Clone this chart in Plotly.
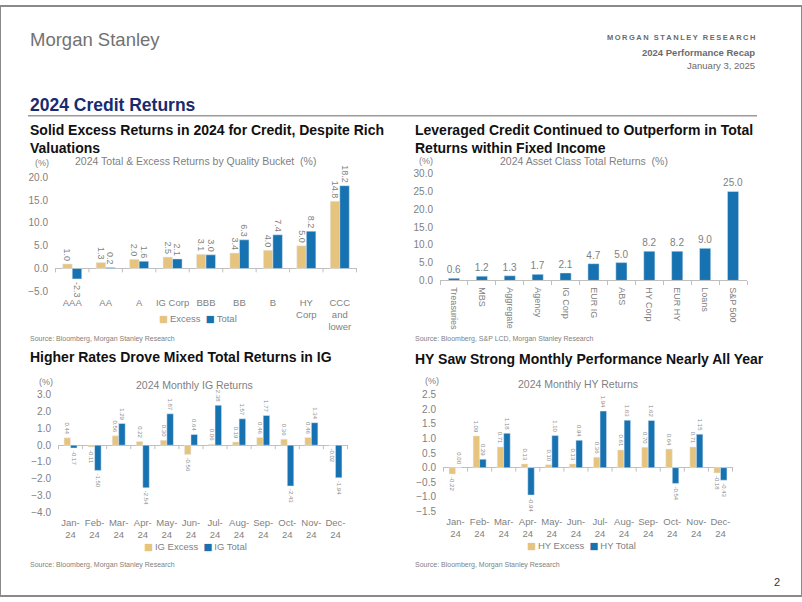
import plotly.graph_objects as go

# ---------------- data ----------------
quality_buckets = ["AAA", "AA", "A", "IG Corp", "BBB", "BB", "B", "HY Corp", "CCC and lower"]
quality_ticktext = ["AAA", "AA", "A", "IG Corp", "BBB", "BB", "B", "HY<br>Corp", "CCC<br>and<br>lower"]
quality_excess = [1.0, 1.3, 2.0, 2.5, 3.1, 3.4, 4.0, 5.0, 14.8]
quality_total = [-2.3, 0.2, 1.6, 2.1, 3.0, 6.3, 7.4, 8.2, 18.2]

asset_classes = ["Treasuries", "MBS", "Aggregate", "Agency", "IG Corp", "EUR IG", "ABS",
                 "HY Corp", "EUR HY", "Loans", "S&P 500"]
asset_total = [0.6, 1.2, 1.3, 1.7, 2.1, 4.7, 5.0, 8.2, 8.2, 9.0, 25.0]

months = ["Jan-24", "Feb-24", "Mar-24", "Apr-24", "May-24", "Jun-24",
          "Jul-24", "Aug-24", "Sep-24", "Oct-24", "Nov-24", "Dec-24"]
month_ticktext = [m.replace("-", "-<br>") for m in months]
ig_excess = [0.44, -0.11, 0.56, 0.22, 0.30, -0.56, 0.06, 0.19, 0.46, 0.36, 0.46, -0.02]
ig_total = [-0.17, -1.50, 1.29, -2.54, 1.87, 0.64, 2.38, 1.57, 1.77, -2.43, 1.34, -1.94]
hy_excess = [-0.22, 1.09, 0.71, 0.13, 0.10, 0.13, 0.36, 0.61, 0.70, 0.64, 0.71, -0.18]
hy_total = [0.00, 0.29, 1.18, -0.94, 1.10, 0.94, 1.94, 1.63, 1.62, -0.54, 1.15, -0.43]

# ---------------- style ----------------
W, H = 802, 602
FONT = "Liberation Sans, Arial, sans-serif"
BEIGE = "#E6C47E"
BLUE = "#1672B0"
GRAY = "#7F7F7F"
LGRAY = "#8C8C8C"
AXIS = "#BFBFBF"
NAVY = "#172B6E"


def xd(a, b):
    return [a / W, b / W]


def yd(top, bottom):
    return [1 - bottom / H, 1 - top / H]


fig = go.Figure()


def bar(x, y, name, color, width, offset, xa, ya, fmt, size, tcolor, angle=90):
    return go.Bar(x=x, y=y, name=name, marker_color=color, width=width, offset=offset,
                  xaxis=xa, yaxis=ya, texttemplate=fmt, textposition="outside",
                  textangle=angle, textfont=dict(size=size, color=tcolor, family=FONT),
                  cliponaxis=False, constraintext="none", showlegend=False)


# Chart 1
fig.add_trace(bar(quality_buckets, quality_excess, "Excess", BEIGE, 0.285, -0.285, "x", "y",
                  "%{y:.1f}", 9, GRAY))
fig.add_trace(bar(quality_buckets, quality_total, "Total", BLUE, 0.285, 0, "x", "y",
                  "%{y:.1f}", 9, GRAY))
# Chart 2
fig.add_trace(bar(asset_classes, asset_total, "Total", BLUE, 0.4, -0.2, "x2", "y2",
                  "%{y:.1f}", 10, GRAY, angle=0))
# Chart 3
fig.add_trace(bar(months, ig_excess, "IG Excess", BEIGE, 0.27, -0.27, "x3", "y3",
                  "%{y:.2f}", 6, LGRAY))
fig.add_trace(bar(months, ig_total, "IG Total", BLUE, 0.27, 0, "x3", "y3",
                  "%{y:.2f}", 6, LGRAY))
# Chart 4
fig.add_trace(bar(months, hy_excess, "HY Excess", BEIGE, 0.27, -0.27, "x4", "y4",
                  "%{y:.2f}", 6, LGRAY))
fig.add_trace(bar(months, hy_total, "HY Total", BLUE, 0.27, 0, "x4", "y4",
                  "%{y:.2f}", 6, LGRAY))


def xaxis_cfg(domain, anchor, tickvals, ticktext, size=9.5, line=False, angle=0, standoff=4):
    return dict(domain=domain, anchor=anchor, type="category", tickmode="array",
                tickvals=tickvals, ticktext=ticktext, tickangle=angle,
                tickfont=dict(size=size, color=GRAY, family=FONT),
                showgrid=False, zeroline=False, showline=line, linecolor=AXIS, linewidth=1,
                ticks="outside" if line else "", tickson="boundaries", ticklen=4,
                tickcolor=AXIS, ticklabelstandoff=standoff, fixedrange=True)


def yaxis_cfg(domain, anchor, rng, dtick, fmt, zero=True):
    return dict(domain=domain, anchor=anchor, range=rng, dtick=dtick, tick0=rng[0],
                tickformat=fmt, tickfont=dict(size=10, color=GRAY, family=FONT),
                showgrid=False, showline=False, zeroline=zero, zerolinecolor=AXIS,
                zerolinewidth=1, ticks="", ticklabelstandoff=6, fixedrange=True)


C1 = dict(x=(55, 357), y=(175, 291), r=[-5, 20])
C2 = dict(x=(440, 747), y=(171, 280), r=[0, 30])
C3 = dict(x=(58, 348), y=(396.7, 516.7), r=[-4, 3])
C4 = dict(x=(443, 733), y=(396.7, 515.7), r=[-1.5, 2.5])

fig.update_layout(
    width=W, height=H, autosize=False,
    margin=dict(l=0, r=0, t=0, b=0),
    paper_bgcolor="white", plot_bgcolor="rgba(0,0,0,0)",
    font=dict(family=FONT, color=GRAY),
    showlegend=False,
    xaxis=xaxis_cfg(xd(*C1["x"]), "y", quality_buckets, quality_ticktext),
    yaxis=yaxis_cfg(yd(*C1["y"]), "x", C1["r"], 5, ".1f"),
    xaxis2=xaxis_cfg(xd(*C2["x"]), "y2", asset_classes, asset_classes, size=9, line=True, angle=90),
    yaxis2=yaxis_cfg(yd(*C2["y"]), "x2", C2["r"], 5, ".1f", zero=False),
    xaxis3=xaxis_cfg(xd(*C3["x"]), "y3", months, month_ticktext, size=9.5, standoff=3),
    yaxis3=yaxis_cfg(yd(*C3["y"]), "x3", C3["r"], 1, ".1f"),
    xaxis4=xaxis_cfg(xd(*C4["x"]), "y4", months, month_ticktext, size=9.5, standoff=3),
    yaxis4=yaxis_cfg(yd(*C4["y"]), "x4", C4["r"], 0.5, ".1f"),
)

# small tick marks on zero lines (category boundaries)
shapes = []
for cfg, xa, ya, n in [(C1, "x", "y", len(quality_buckets)), (C3, "x3", "y3", len(months)),
                       (C4, "x4", "y4", len(months))]:
    per_px = (cfg["r"][1] - cfg["r"][0]) / (cfg["y"][1] - cfg["y"][0])
    for i in range(n + 1):
        shapes.append(dict(type="line", xref=xa, yref=ya, x0=i - 0.5, x1=i - 0.5,
                           y0=0, y1=-4 * per_px, line=dict(color=AXIS, width=1)))
# header rule
shapes.append(dict(type="line", xref="paper", yref="paper", x0=28 / W, x1=757 / W,
                   y0=1 - 112 / H, y1=1 - 112 / H, line=dict(color="#9A9A9A", width=1.5)))
# page border
shapes.append(dict(type="rect", xref="paper", yref="paper", x0=0, x1=1, y0=0, y1=1,
                   line=dict(color="#8A8A8A", width=2)))
fig.update_layout(shapes=shapes)

anns = []


def ann(x, y, text, size, color=GRAY, bold=False, xanchor="left", yanchor="middle"):
    if bold:
        text = "<b>" + text + "</b>"
    anns.append(dict(x=x / W, y=1 - y / H, xref="paper", yref="paper", text=text,
                     showarrow=False, xanchor=xanchor, yanchor=yanchor, align="left",
                     font=dict(size=size, color=color, family=FONT)))


def legend_text(items):
    parts = []
    for name, col in items:
        parts.append('<span style="color:%s;font-family:DejaVu Sans">\u25A0</span>\u2009%s' % (col, name))
    return "  ".join(parts)


# header
ann(28, 34, "Morgan Stanley", 18.5, color="#727272")
ann(757, 32, "\u2009".join(list("MORGAN STANLEY RESEARCH")), 7.5, color="#6B6B6B", bold=True,
    xanchor="right")
ann(757, 47, "2024 Performance Recap", 9.5, color="#6B6B6B", bold=True, xanchor="right")
ann(757, 61, "January 3, 2025", 9.5, color="#6B6B6B", xanchor="right")
ann(28, 101, "2024 Credit Returns", 17.5, color=NAVY, bold=True)

# chart titles
ann(28, 135.5, "Solid Excess Returns in 2024 for Credit, Despite Rich<br>Valuations", 14,
    color="#111111", bold=True)
ann(413, 135.5, "Leveraged Credit Continued to Outperform in Total<br>Returns within Fixed Income", 14,
    color="#111111", bold=True)
ann(28, 358, "Higher Rates Drove Mixed Total Returns in IG", 14, color="#111111", bold=True)
ann(413, 360, "HY Saw Strong Monthly Performance Nearly All Year", 14, color="#111111", bold=True)

# chart subtitles & units
ann(33, 160, "(%)", 9)
ann(73, 158, "2024 Total &amp; Excess Returns by Quality Bucket  (%)", 10.5)
ann(417, 158, "(%)", 9)
ann(498, 158, "2024 Asset Class Total Returns  (%)", 10.5)
ann(37, 384, "(%)", 9)
ann(194, 387, "2024 Monthly IG Returns", 10.5, xanchor="center")
ann(423, 383, "(%)", 9)
ann(578, 386, "2024 Monthly HY Returns", 10.5, xanchor="center")

# legends
ann(198, 319, legend_text([("Excess", BEIGE), ("Total", BLUE)]), 9.5, xanchor="center")
ann(195, 551, legend_text([("IG Excess", BEIGE), ("IG Total", BLUE)]), 9.5, xanchor="center")
ann(581, 550, legend_text([("HY Excess", BEIGE), ("HY Total", BLUE)]), 9.5, xanchor="center")

# sources
ann(28, 340, "Source: Bloomberg, Morgan Stanley Research", 7)
ann(413, 340, "Source: Bloomberg, S&amp;P LCD, Morgan Stanley Research", 7)
ann(28, 570, "Source: Bloomberg, Morgan Stanley Research", 7)
ann(413, 570, "Source: Bloomberg, Morgan Stanley Research", 7)

# page number
ann(777, 588, "2", 11, color="#333333", xanchor="center")

fig.update_layout(annotations=anns)
fig.write_html("out.html")
